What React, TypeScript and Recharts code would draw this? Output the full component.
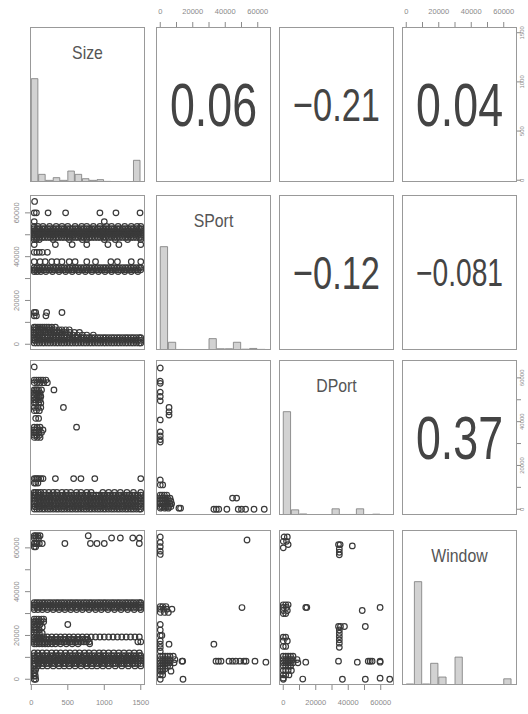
import React from 'react';
import { ComposedChart, Scatter, Bar, XAxis, YAxis } from 'recharts';

type Row = [number, number[]];

const variables = ['Size', 'SPort', 'DPort', 'Window'];

const sizeTicks = [0, 500, 1000, 1500];
const sizeTickLabels = [0, 500, 1000, 1500];
const portTicks = [0, 10000, 20000, 30000, 40000, 50000, 60000];
const portTickLabels = [0, 20000, 40000, 60000];

const sizeBinMids = [50, 150, 250, 350, 450, 550, 650, 750, 850, 950, 1050, 1150, 1250, 1350, 1450];
const sizeHist = [1.0, 0.074, 0.016, 0.042, 0.016, 0.106, 0.074, 0.032, 0.016, 0.023, 0.006, 0.003, 0.003, 0.003, 0.21];
const portBinMids = [2500, 7500, 12500, 17500, 22500, 27500, 32500, 37500, 42500, 47500, 52500, 57500, 62500, 67500];
const sportHist = [1.0, 0.075, 0.005, 0.003, 0.003, 0.003, 0.11, 0.012, 0.012, 0.075, 0.008, 0.015, 0.006, 0.002];
const dportHist = [1.0, 0.05, 0.01, 0.002, 0.002, 0.002, 0.06, 0.005, 0.005, 0.06, 0.002, 0.008, 0.002, 0];
const windowHist = [0.01, 1.0, 0.01, 0.21, 0.077, 0, 0.27, 0, 0, 0, 0, 0, 0.06, 0];

const correlations: [string, string, string][] = [
  ['Size', 'SPort', '0.06'],
  ['Size', 'DPort', '\u22120.21'],
  ['Size', 'Window', '0.04'],
  ['SPort', 'DPort', '\u22120.12'],
  ['SPort', 'Window', '\u22120.081'],
  ['DPort', 'Window', '0.37'],
];

// Size values of packets that fill the dense horizontal bands
const sizeCloudA = [40, 75, 110, 150, 185, 225, 260, 300, 340, 375, 415, 450, 490, 530, 565, 605, 640, 680, 720, 755, 795, 830, 870, 910, 945, 985, 1020, 1060, 1100, 1135, 1175, 1210, 1250, 1290, 1325, 1365, 1400, 1440, 1480, 1500];
const sizeCloudB = [40, 55, 95, 130, 170, 205, 245, 280, 320, 360, 395, 435, 470, 510, 550, 585, 625, 660, 700, 740, 775, 815, 850, 890, 930, 965, 1005, 1040, 1080, 1120, 1155, 1195, 1230, 1270, 1310, 1345, 1385, 1420, 1460, 1500];

// rows: [y value, list of x values]
const sizeVsSPort: Row[] = [
  [65200, [45]],
  [60000, [40, 70, 230, 470, 940, 1160, 1490]],
  [56000, [40, 1000]],
  [53800, [40, 90, 160, 250, 340, 420, 500, 600, 690, 760, 850, 940, 1030, 1100, 1190, 1280, 1370, 1450, 1500]],
  [52800, sizeCloudA],
  [51800, sizeCloudB],
  [50800, sizeCloudA],
  [49800, sizeCloudB],
  [48800, sizeCloudA],
  [47800, [40, 70, 110, 300, 520, 700, 760, 1000, 1150, 1320, 1500]],
  [45500, [40, 330, 560, 760, 1050, 1200, 1500]],
  [42000, [40, 75, 110, 150, 220]],
  [37700, [40, 120, 190, 280, 350, 420, 520, 600, 760, 880, 1090, 1180, 1370, 1500]],
  [35000, sizeCloudA],
  [34000, sizeCloudB],
  [33200, [40, 80, 130, 200, 290, 380, 470, 560, 650, 740, 830, 920, 1010, 1100, 1190, 1280, 1370, 1460]],
  [14500, [40, 60, 210, 420]],
  [13000, [40, 70, 200]],
  [7800, [40, 60, 90, 120, 150, 180, 210, 240, 280, 330]],
  [6600, [40, 65, 95, 130, 160, 190, 225, 255, 290, 330, 380, 420, 470, 520]],
  [5400, [40, 70, 100, 135, 165, 200, 235, 270, 310, 350, 390, 430, 480, 530, 590, 660]],
  [4200, [40, 60, 90, 120, 155, 190, 220, 260, 300, 340, 380, 420, 470, 520, 570, 630, 700, 760, 850]],
  [3000, sizeCloudA],
  [1800, sizeCloudB],
  [600, sizeCloudA],
];

const sizeVsDPort: Row[] = [
  [65000, [40]],
  [59000, [40, 70, 100, 130, 160, 200]],
  [57800, [40, 80, 120, 170, 220]],
  [54500, [40, 60, 80, 100, 140, 310]],
  [53000, [40, 60, 90, 120]],
  [51500, [40, 80, 110, 130]],
  [50000, [40, 60, 90, 120]],
  [48500, [40, 60, 100, 130]],
  [46500, [40, 90, 130, 440]],
  [45000, [40, 70, 110]],
  [41500, [60, 100]],
  [37500, [40, 80, 120, 620]],
  [36200, [40, 70, 110, 160]],
  [35000, [40, 60, 100, 140]],
  [33800, [40, 70, 110]],
  [32800, [40, 80, 120]],
  [14000, [40, 60, 80, 100, 130, 160, 330, 580, 680, 870, 1500]],
  [12000, [40, 60, 90]],
  [7700, [40, 60, 90, 130, 180, 240, 300, 350, 420, 480, 540, 620, 680, 760, 820, 980, 1060, 1140, 1220, 1310, 1400, 1500]],
  [6400, sizeCloudB],
  [5100, sizeCloudA],
  [3800, sizeCloudB],
  [2500, sizeCloudA],
  [1200, sizeCloudB],
  [100, sizeCloudA],
];

const sizeVsWindow: Row[] = [
  [65535, [40, 60, 90, 120, 780]],
  [64500, [40, 70, 100, 1100, 1220, 1390, 1480]],
  [62000, [40, 60, 80, 110, 150, 460, 810, 900, 1000, 1480]],
  [60500, [40, 60]],
  [35000, sizeCloudA],
  [33900, sizeCloudB],
  [32800, sizeCloudA],
  [31800, [40, 90, 150, 220, 300, 380, 460, 540, 620, 700, 790, 880, 960, 1050, 1140, 1230, 1320, 1410, 1500]],
  [27500, [40, 70, 100, 140, 170]],
  [26300, [40, 60, 90, 130, 170]],
  [25000, [40, 80, 120, 500]],
  [23800, [40, 60, 100, 150]],
  [22500, [40, 70, 110]],
  [21000, [40, 70, 110, 150]],
  [19300, [40, 80, 120, 170, 220, 280, 340, 400, 460, 520, 580, 640, 700, 760, 820, 880, 940, 1000, 1060, 1120, 1180, 1240, 1300, 1360, 1420, 1480]],
  [18200, [40, 60, 95, 130, 170, 205, 245, 280, 320, 360, 395, 435, 470, 510, 550, 585, 625, 660, 700, 740, 775]],
  [17100, [40, 75, 110, 150, 185, 225, 260, 300, 340, 375, 415, 450, 490, 530, 565, 605, 640, 680, 720, 755, 795, 1460, 1500]],
  [16200, [40, 70, 110, 150, 190, 230, 280, 330, 400, 480, 560, 640, 800]],
  [12000, [40, 90, 150, 210, 280, 340, 400, 470, 530, 600, 660, 730, 790, 860, 930, 990, 1060, 1130, 1200, 1270, 1340, 1410, 1480]],
  [10800, sizeCloudA],
  [9600, sizeCloudB],
  [8400, sizeCloudA],
  [7200, sizeCloudB],
  [6100, [40, 90, 150, 220, 300, 380, 450, 520, 600, 680, 760, 830, 900, 980, 1060, 1150, 1240, 1330, 1420, 1500]],
  [4500, [40, 60]],
  [3000, [40, 50]],
  [1500, [40, 55]],
  [0, [40, 60]],
];

const sportVsDPort: Row[] = [
  [64500, [0]],
  [58500, [0]],
  [57500, [0]],
  [53500, [0]],
  [51500, [0]],
  [49500, [0]],
  [46500, [5400]],
  [44500, [5400]],
  [43000, [5400]],
  [40800, [0]],
  [35300, [0]],
  [33500, [0]],
  [31800, [0]],
  [30700, [0]],
  [13400, [0]],
  [11100, [0, 1500]],
  [6500, [0, 1200, 2500, 4000]],
  [5100, [0, 1500, 3000, 4500, 6000, 44500, 47000]],
  [3800, [0, 1200, 2500, 3800, 5200, 6500]],
  [2500, [0, 1500, 3000, 4500, 6000, 7000]],
  [1200, [0, 1200, 2500, 3800, 5000, 6500]],
  [500, [0, 2500, 5000, 11500, 12500]],
  [0, [33000, 34500, 36000, 41000, 48000, 50000, 52500, 57700, 64000]],
];

const sportVsWindow: Row[] = [
  [65000, [0]],
  [63600, [53400]],
  [62500, [0]],
  [60500, [0]],
  [58500, [0]],
  [57000, [0]],
  [33200, [0, 1500, 3500]],
  [32750, [50300]],
  [32000, [0, 2000, 4000, 7200]],
  [30500, [0, 2500, 5000]],
  [25000, [0]],
  [22500, [0]],
  [20000, [0, 1000]],
  [17500, [0]],
  [16000, [0, 5400, 33000]],
  [14500, [0]],
  [12800, [0]],
  [10500, [0, 1500, 3000, 4500, 6000, 8000]],
  [9000, [0, 1500, 3000, 4500, 6000, 9000]],
  [8270, [13400, 13800, 34300, 35800, 37400, 42300, 44500, 46500, 49000, 51500, 52800, 58300]],
  [7800, [65000]],
  [7500, [0, 1500, 3000, 4500, 6000, 8500]],
  [6000, [0, 1500, 3000, 4500, 6000]],
  [4800, [0, 1500, 3000]],
  [3700, [0, 1500, 6600]],
  [2000, [0, 1500]],
  [0, [0, 14000]],
];

const dportVsWindow: Row[] = [
  [65000, [500, 2500]],
  [63000, [0, 2000]],
  [61500, [3000, 34000, 35000]],
  [60900, [42500]],
  [60000, [0]],
  [59500, [34500]],
  [58000, [34500]],
  [56800, [34500]],
  [34000, [0, 1500, 3000]],
  [32800, [0, 2000, 13850, 14500, 59600]],
  [31400, [0, 2500, 48600]],
  [30000, [0, 1500]],
  [24100, [34000, 35200, 37650, 50500]],
  [22500, [34500]],
  [21000, [34500]],
  [19500, [34500]],
  [19200, [0, 1500]],
  [18000, [34500]],
  [17500, [0, 2500]],
  [16500, [34500]],
  [15000, [0, 1500]],
  [14600, [34500]],
  [10500, [0, 1500, 3000, 4500, 6000]],
  [9000, [0, 1500, 3000, 4500, 6000, 8500]],
  [8270, [34000, 52300, 53500, 54700, 59600]],
  [7800, [13850, 45580, 59600]],
  [7500, [0, 1500, 3000, 4500, 6000, 9000]],
  [6000, [0, 1500, 3000, 4500]],
  [4000, [0, 1500, 3000, 5000]],
  [2000, [0, 1500, 3500]],
  [500, [0, 59600]],
  [100, [12000]],
  [0, [0, 36400, 50500, 65535]],
];

const scatterRows: Record<string, Row[]> = {
  'Size|SPort': sizeVsSPort,
  'Size|DPort': sizeVsDPort,
  'Size|Window': sizeVsWindow,
  'SPort|DPort': sportVsDPort,
  'SPort|Window': sportVsWindow,
  'DPort|Window': dportVsWindow,
};

const histograms: Record<string, { mids: number[]; h: number[] }> = {
  Size: { mids: sizeBinMids, h: sizeHist },
  SPort: { mids: portBinMids, h: sportHist },
  DPort: { mids: portBinMids, h: dportHist },
  Window: { mids: portBinMids, h: windowHist },
};

const PORT_DOMAIN: [number, number] = [-2621, 68156];
const axisInfo: Record<string, { domain: [number, number]; ticks: number[]; labels: number[]; bin: number }> = {
  Size: { domain: [-18, 1558], ticks: sizeTicks, labels: sizeTickLabels, bin: 100 },
  SPort: { domain: PORT_DOMAIN, ticks: portTicks, labels: portTickLabels, bin: 5000 },
  DPort: { domain: PORT_DOMAIN, ticks: portTicks, labels: portTickLabels, bin: 5000 },
  Window: { domain: PORT_DOMAIN, ticks: portTicks, labels: portTickLabels, bin: 5000 },
};

// layout
const COL_X = [30, 156, 279, 402];
const ROW_Y = [27, 195, 360, 530];
const PW = 115;
const PH = 155;
const AX = 30;
const FONT = 'Liberation Sans, Arial, Helvetica, sans-serif';
const AXIS_COLOR = '#8a8a8a';

function renderTick(props: any, side: string, labels: number[]) {
  const { x, y, payload } = props;
  const v = payload.value;
  if (!labels.includes(v)) return <g />;
  const fs = side === 'right' ? 6 : 7.5;
  const common = { fontSize: fs, fill: AXIS_COLOR, fontFamily: FONT, textAnchor: 'middle' as const, dy: '0.35em' };
  if (side === 'top' || side === 'bottom') {
    return <text x={x} y={y} {...common}>{String(v)}</text>;
  }
  return (
    <text x={x} y={y} transform={`rotate(-90 ${x} ${y})`} {...common}>
      {String(v)}
    </text>
  );
}

const Circle = (p: any) => (
  <circle cx={p.cx} cy={p.cy} r={2.8} fill="none" stroke="#3a3a3a" strokeWidth={1.2} />
);

const emWidth = (s: string) =>
  [...s].reduce((a, ch) => a + (ch === '.' ? 0.278 : ch === '\u2212' ? 0.584 : 0.556), 0);

function Panel({ r, c }: { r: number; c: number }) {
  const xVar = variables[c];
  const hasT = r === 0 && c % 2 === 1;
  const hasB = r === 3 && c % 2 === 0;
  const hasL = c === 0 && r % 2 === 1;
  const hasR = c === 3 && r % 2 === 0;
  const xi = axisInfo[xVar];
  const yi = axisInfo[variables[r]];
  const yDomain: [number, number] = r === c ? [0, 1.5] : yi.domain;
  const w = PW + (hasL ? AX : 0) + (hasR ? AX : 0);
  const h = PH + (hasT ? AX : 0) + (hasB ? AX : 0);
  const left = COL_X[c] - (hasL ? AX : 0);
  const top = ROW_Y[r] - (hasT ? AX : 0);
  const xSide = hasT ? 'top' : 'bottom';
  const ySide = hasR ? 'right' : 'left';

  let series: React.ReactNode = null;
  let chartData: any[] | undefined = undefined;
  if (r === c) {
    const hist = histograms[xVar];
    chartData = hist.mids.map((m, i) => ({ x: m, y: hist.h[i] }));
    const barSize = (PW * xi.bin) / (xi.domain[1] - xi.domain[0]);
    series = (
      <Bar dataKey="y" fill="#d2d2d2" stroke="#7a7a7a" strokeWidth={0.8} barSize={barSize} isAnimationActive={false} />
    );
  } else if (r > c) {
    const rows = scatterRows[`${xVar}|${variables[r]}`];
    const pts = rows.flatMap(([yv, xs]) => xs.map((xv) => ({ x: xv, y: yv })));
    series = <Scatter data={pts} dataKey="y" shape={Circle} isAnimationActive={false} />;
  }

  return (
    <div style={{ position: 'absolute', left, top, width: w, height: h }}>
      <ComposedChart width={w} height={h} margin={{ top: 0, right: 0, bottom: 0, left: 0 }} data={chartData} barGap={0} barCategoryGap={0}>
        <XAxis
          type="number"
          dataKey="x"
          domain={xi.domain}
          ticks={xi.ticks}
          interval={0}
          allowDataOverflow
          hide={!(hasT || hasB)}
          orientation={xSide as any}
          height={AX}
          axisLine={false}
          tickLine={{ stroke: AXIS_COLOR }}
          tickSize={5}
          tickMargin={hasT ? 11 : 12}
          tick={(p: any) => renderTick(p, xSide, xi.labels)}
        />
        <YAxis
          type="number"
          dataKey="y"
          domain={yDomain}
          ticks={r === c ? undefined : yi.ticks}
          interval={0}
          allowDataOverflow
          hide={!(hasL || hasR)}
          orientation={ySide as any}
          width={AX}
          axisLine={false}
          tickLine={{ stroke: AXIS_COLOR }}
          tickSize={hasR ? 4 : 5}
          tickMargin={hasR ? 1 : 9}
          tick={(p: any) => renderTick(p, ySide, yi.labels)}
        />
        {series}
      </ComposedChart>
    </div>
  );
}

function Overlay({ r, c }: { r: number; c: number }) {
  const X = COL_X[c];
  const Y = ROW_Y[r];
  let content: React.ReactNode = null;
  if (r === c) {
    const name = variables[r];
    const fs = 18;
    content = (
      <text
        transform={`translate(${PW / 2} ${26 + 0.358 * fs}) scale(0.88 1)`}
        x={0}
        y={0}
        textAnchor="middle"
        fontSize={fs}
        fontFamily={FONT}
        fill="#555"
      >
        {name}
      </text>
    );
  } else if (r < c) {
    const entry = correlations.find((e) => e[0] === variables[r] && e[1] === variables[c]);
    const txt = entry ? entry[2] : '';
    const fs = 87 / (emWidth(txt) * 0.73);
    content = (
      <text
        transform={`translate(${PW / 2} ${PH / 2 + 0.358 * fs}) scale(0.73 1)`}
        x={0}
        y={0}
        textAnchor="middle"
        fontSize={fs}
        fontFamily={FONT}
        fill="#444"
      >
        {txt}
      </text>
    );
  }
  return (
    <svg
      width={PW}
      height={PH}
      style={{ position: 'absolute', left: X, top: Y, pointerEvents: 'none', overflow: 'visible' }}
    >
      {content}
      <rect x={0.5} y={0.5} width={PW - 1} height={PH - 1} fill="none" stroke="#999" strokeWidth={1} />
    </svg>
  );
}

export default function App() {
  const cells: { r: number; c: number }[] = [];
  for (let r = 0; r < 4; r++) for (let c = 0; c < 4; c++) cells.push({ r, c });
  return (
    <div
      style={{
        position: 'absolute',
        left: 0,
        top: 0,
        width: 528,
        height: 714,
        overflow: 'hidden',
        background: '#fff',
        fontFamily: FONT,
      }}
    >
      <style>{'.recharts-surface{overflow:visible}.recharts-wrapper{overflow:visible}'}</style>
      {cells.map(({ r, c }) => (
        <Panel key={`p${r}${c}`} r={r} c={c} />
      ))}
      {cells.map(({ r, c }) => (
        <Overlay key={`o${r}${c}`} r={r} c={c} />
      ))}
    </div>
  );
}
